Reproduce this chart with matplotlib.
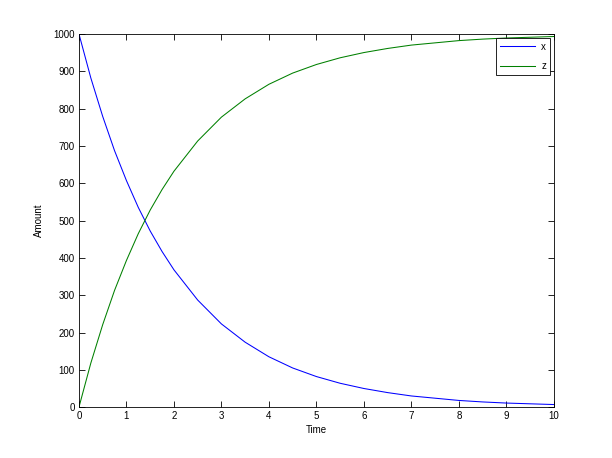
import matplotlib
matplotlib.use('Agg')
from matplotlib import pyplot as plt

# values
t = [0, 0.25, 0.5, 0.75, 1, 1.25, 1.5, 1.75, 2, 2.5, 3, 3.5, 4, 4.5, 5,
     5.5, 6, 6.5, 7, 7.5, 8, 8.5, 9, 9.5, 10]
x = [1000, 882, 779, 687, 607, 535, 472, 417, 368, 287, 223, 174, 135, 105, 82,
     64, 50, 39, 30, 24, 18, 14, 11, 9, 7]
z = [0, 118, 221, 313, 393, 465, 528, 583, 632, 713, 777, 826, 865, 895, 918,
     936, 950, 961, 970, 976, 982, 986, 989, 991, 993]

xticks = list(range(0, 11))
yticks = list(range(0, 1001, 100))

plt.rcParams['font.family'] = ['Liberation Sans', 'DejaVu Sans']
plt.rcParams['font.size'] = 7

fig = plt.figure(figsize=(6.12, 4.58), dpi=100)
ax = fig.add_axes([0.129, 0.111, 0.776, 0.815])

ax.plot(t, x, color=(0, 0, 1), lw=0.75, label='x')
ax.plot(t, z, color=(0, 0.5, 0), lw=0.75, label='z')

ax.set_xlim(0, 10)
ax.set_ylim(0, 1000)
ax.set_xticks(xticks)
ax.set_yticks(yticks)
ax.tick_params(direction='in', length=4, width=0.6, top=True, right=True,
               pad=3, colors='black')
for s in ax.spines.values():
    s.set_linewidth(0.6)

ax.set_xlabel('Time', labelpad=3)
ax.set_ylabel('Amount', labelpad=7)

leg = ax.legend(loc='upper right', fancybox=False, framealpha=1,
                edgecolor='black', handlelength=3.6, borderaxespad=0.4,
                handletextpad=0.6, labelspacing=1.0)
leg.get_frame().set_linewidth(0.6)

fig.savefig('out.png', dpi=100, facecolor='white')
